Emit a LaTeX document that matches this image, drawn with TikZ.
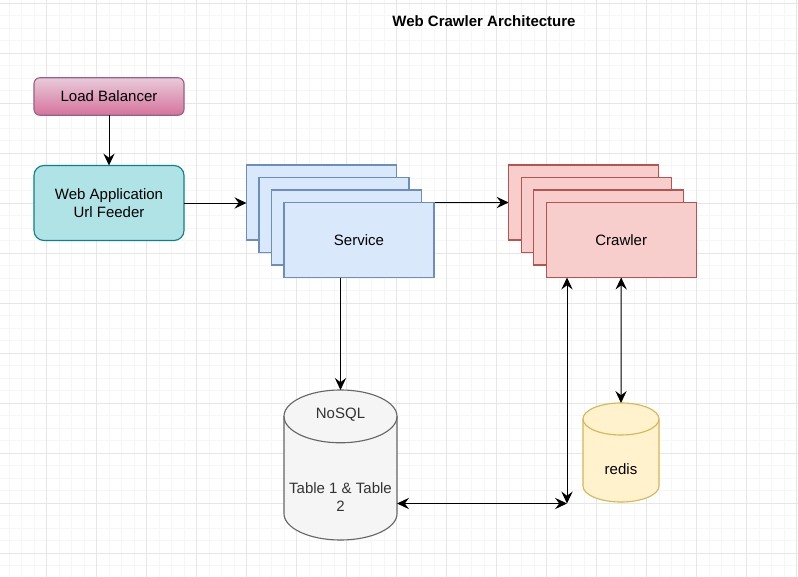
\documentclass[tikz,border=0pt]{standalone}
\usepackage{fontspec}
\setmainfont{Liberation Sans}
\usetikzlibrary{arrows.meta,backgrounds}

\definecolor{gridminor}{HTML}{F6F6F6}
\definecolor{gridmajor}{HTML}{E6E6E6}
\definecolor{lbtop}{HTML}{E8CBDA}
\definecolor{lbbottom}{HTML}{D5739D}
\definecolor{lbline}{HTML}{996185}
\definecolor{wafill}{HTML}{B0E3E6}
\definecolor{waline}{HTML}{0E8088}
\definecolor{svcfill}{HTML}{DAE8FC}
\definecolor{svcline}{HTML}{6C8EBF}
\definecolor{crwfill}{HTML}{F8CECC}
\definecolor{crwline}{HTML}{B85450}
\definecolor{dbfill}{HTML}{F5F5F5}
\definecolor{dbline}{HTML}{666666}
\definecolor{dbtext}{HTML}{333333}
\definecolor{cachefill}{HTML}{FFF2CC}
\definecolor{cacheline}{HTML}{D6B656}

\tikzset{
  box/.style={draw, line width=0.8pt, inner sep=0pt, outer sep=0pt, minimum width=3.75cm, align=center},
  stackbox/.style={box, minimum height=1.875cm},
  dbbox/.style={inner sep=0pt, outer sep=0pt},
  link/.style={line width=0.7pt, ->},
}

% cylinder drawn round a plain node: [options]{node}{x radius}{y radius}
\newcommand\drawdb[4][]{%
  \draw[#1] ([yshift=-#4]#2.north west) -- ([yshift=#4]#2.south west)
    arc[start angle=180, end angle=360, x radius=#3, y radius=#4]
    -- ([yshift=-#4]#2.north east)
    arc[start angle=0, end angle=180, x radius=#3, y radius=#4] -- cycle;
  \draw[#1, fill=none] ([yshift=-#4]#2.north west)
    arc[start angle=180, end angle=360, x radius=#3, y radius=#4];
}

\begin{document}
\begin{tikzpicture}[x=0.025cm, y=-0.025cm, font=\fontsize{10.67}{12.8}\selectfont,
    >={Stealth[length=8.5pt,width=8pt,inset=3pt]}]
  \useasboundingbox (0,0) rectangle (798,577);

  % grid
  \begin{scope}[on background layer]
    \foreach \gx in {9.2,21.7,...,798} \draw[gridminor, line width=0.6pt] (\gx,0) -- (\gx,577);
    \foreach \gy in {3.3,15.8,...,577} \draw[gridminor, line width=0.6pt] (0,\gy) -- (798,\gy);
    \foreach \gx in {46.7,96.7,...,798} \draw[gridmajor, line width=0.6pt] (\gx,0) -- (\gx,577);
    \foreach \gy in {3.3,53.3,...,577} \draw[gridmajor, line width=0.6pt] (0,\gy) -- (798,\gy);
  \end{scope}

  \node (title) at (484,21) {\bfseries Web Crawler Architecture};

  \node (lb) [box, rounded corners=0.15cm, top color=lbtop, bottom color=lbbottom, draw=lbline,
    minimum height=0.9375cm] at (109,96.5) {Load Balancer};
  \node (wa) [box, rounded corners=0.25cm, fill=wafill, draw=waline,
    minimum height=1.875cm] at (109,203) {Web Application\\Url Feeder};

  \foreach \i/\txt in {1/,2/,3/,4/Service}
    \node (service\i) [stackbox, fill=svcfill, draw=svcline]
      at ({321.5+12.5*(\i-1)},{202.5+12.5*(\i-1)}) {\txt};
  \foreach \i/\txt in {1/,2/,3/,4/Crawler}
    \node (crawler\i) [stackbox, fill=crwfill, draw=crwline]
      at ({583.7+12.5*(\i-1)},{202.5+12.5*(\i-1)}) {\txt};

  % databases
  \node (nosql) [dbbox, minimum width=2.825cm, minimum height=3.75cm] at (340.5,465) {};
  \drawdb[fill=dbfill, draw=dbline, line width=0.8pt]{nosql}{1.4125cm}{0.66cm}
  \node (nosqlname) [text=dbtext] at (340.5,415) {NoSQL};
  \node (nosqltables) [text=dbtext, align=center] at (340.5,497) {Table 1 \& Table\\2};

  \node (redis) [dbbox, minimum width=1.9cm, minimum height=2.475cm] at (621,452.5) {};
  \drawdb[fill=cachefill, draw=cacheline, line width=0.8pt]{redis}{0.95cm}{0.4cm}
  \node (redisname) at (621,469) {redis};

  \coordinate (hub) at (567,503.5);

  \draw[link] (lb) -- (wa);
  \draw[link] (wa.east) -- (wa.east -| service1.west);
  \begin{scope}[on background layer]
    \draw[link] (service1.east) -- (crawler1.west);
  \end{scope}
  \draw[link] (service4.south -| nosql.north) -- (nosql.north);
  \draw[link, <->] (crawler4.south) -- (redis.north);
  \draw[link, <->] (crawler4.south -| hub) -- (hub);
  \draw[link, <->] (nosql.east |- hub) -- (hub);
\end{tikzpicture}
\end{document}
